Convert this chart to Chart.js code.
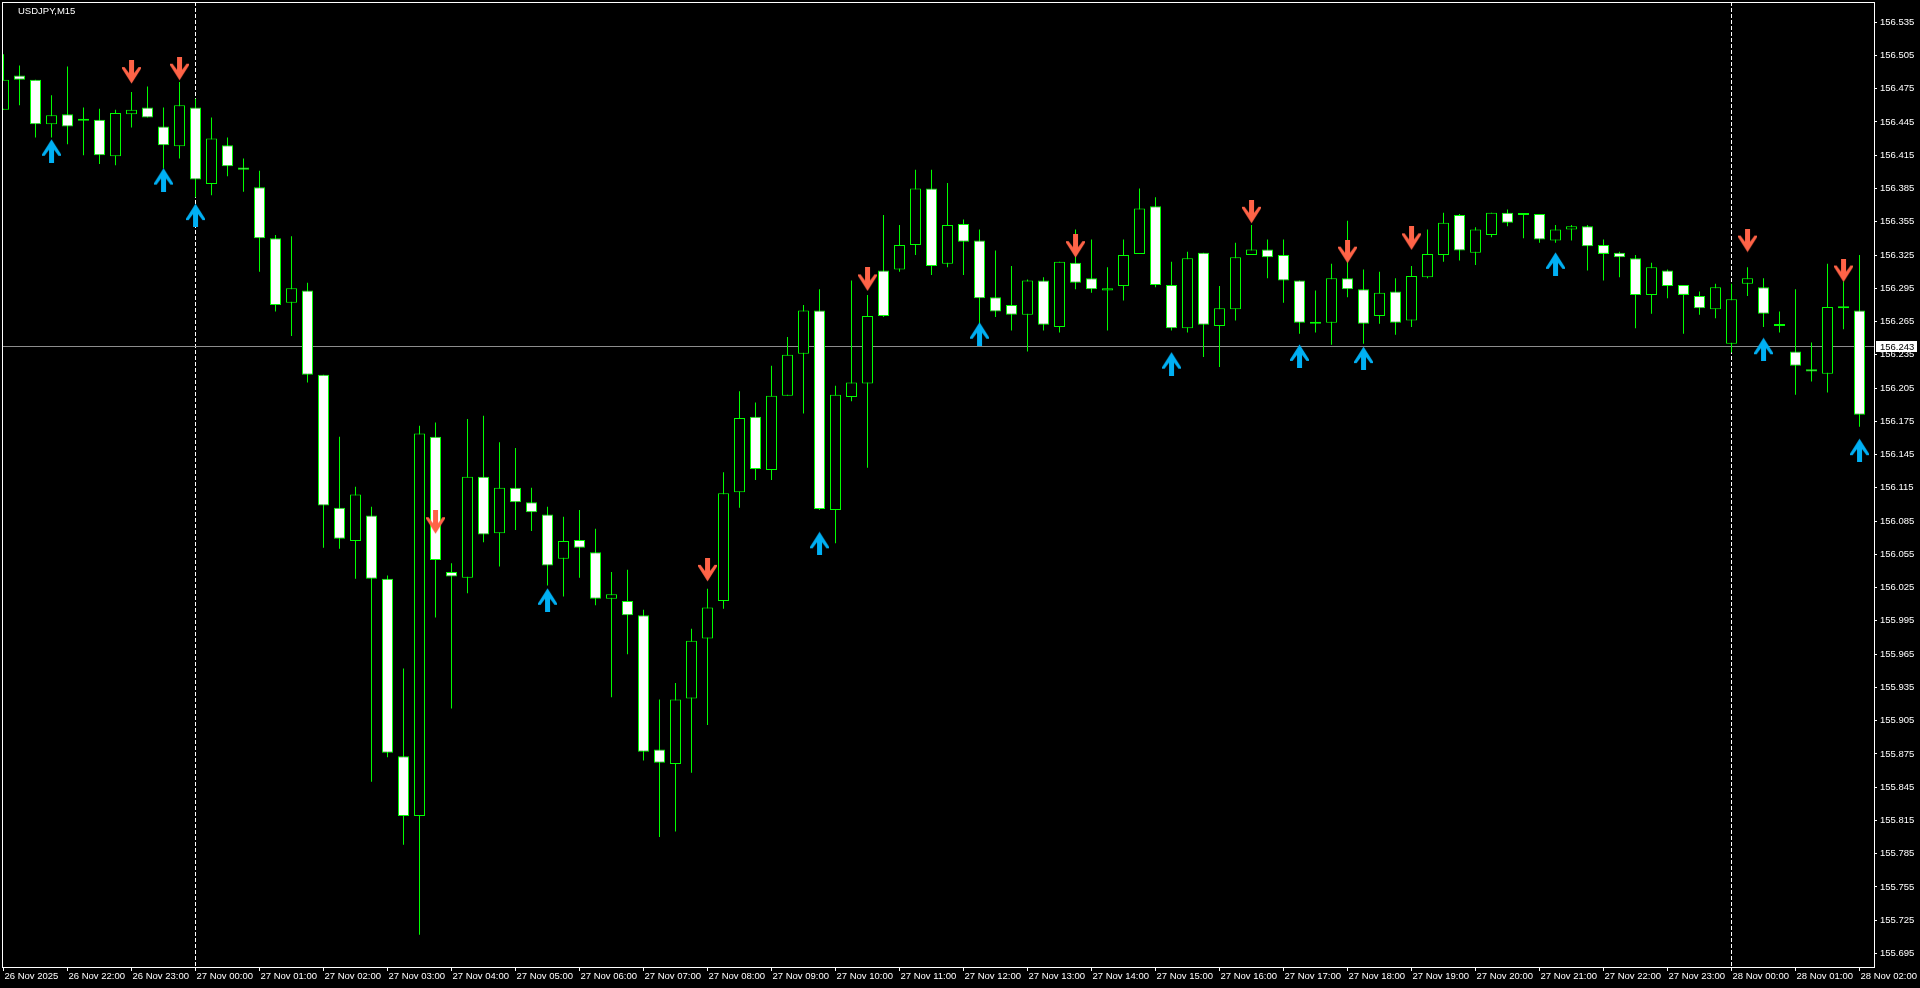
<!DOCTYPE html>
<html>
<head>
<meta charset="utf-8">
<title>USDJPY,M15</title>
<script src="https://cdn.jsdelivr.net/npm/chart.js@4.4.0/dist/chart.umd.min.js"></script>
<style>
  html, body { margin: 0; padding: 0; background: #000; overflow: hidden; }
  #chart { display: block; }
</style>
</head>
<body>
<canvas id="chart" width="1920" height="988"></canvas>
<script>
// USDJPY M15, 26 Nov 21:00 .. 28 Nov 02:00 (one entry per bar)
const symbolTitle = "USDJPY,M15";

const opens = [
  156.456, 156.487, 156.483, 156.443, 156.452, 156.448, 156.447, 156.414, 156.452, 156.458,
  156.441, 156.423, 156.458, 156.389, 156.424, 156.404, 156.386, 156.340, 156.282, 156.293,
  156.217, 156.097, 156.067, 156.090, 156.033, 155.873, 155.819, 156.161, 156.039, 156.034,
  156.125, 156.074, 156.115, 156.102, 156.091, 156.051, 156.068, 156.057, 156.015, 156.013,
  156.000, 155.879, 155.866, 155.925, 155.979, 156.013, 156.111, 156.179, 156.131, 156.198,
  156.236, 156.275, 156.095, 156.197, 156.209, 156.311, 156.312, 156.334, 156.385, 156.317,
  156.353, 156.338, 156.287, 156.280, 156.271, 156.302, 156.260, 156.318, 156.304, 156.293,
  156.297, 156.326, 156.369, 156.298, 156.259, 156.327, 156.261, 156.276, 156.325, 156.330,
  156.325, 156.302, 156.263, 156.264, 156.304, 156.294, 156.270, 156.292, 156.266, 156.305,
  156.325, 156.361, 156.327, 156.343, 156.363, 156.361, 156.362, 156.338, 156.348, 156.351,
  156.334, 156.327, 156.322, 156.289, 156.311, 156.298, 156.288, 156.276, 156.245, 156.299,
  156.296, 156.261, 156.238, 156.222, 156.218, 156.277, 156.275
];
const highs = [
  156.506, 156.496, 156.483, 156.469, 156.495, 156.458, 156.457, 156.456, 156.472, 156.477,
  156.458, 156.481, 156.466, 156.449, 156.431, 156.412, 156.401, 156.343, 156.342, 156.300,
  156.217, 156.161, 156.116, 156.098, 156.036, 155.952, 156.171, 156.174, 156.047, 156.177,
  156.180, 156.156, 156.151, 156.115, 156.098, 156.089, 156.095, 156.078, 156.039, 156.041,
  156.005, 155.924, 155.939, 155.988, 156.024, 156.129, 156.202, 156.192, 156.225, 156.251,
  156.280, 156.294, 156.207, 156.302, 156.289, 156.361, 156.352, 156.402, 156.402, 156.390,
  156.357, 156.348, 156.329, 156.315, 156.303, 156.305, 156.319, 156.348, 156.339, 156.314,
  156.339, 156.385, 156.377, 156.319, 156.328, 156.327, 156.297, 156.336, 156.352, 156.339,
  156.339, 156.302, 156.293, 156.317, 156.356, 156.312, 156.310, 156.304, 156.315, 156.348,
  156.363, 156.362, 156.350, 156.363, 156.366, 156.362, 156.362, 156.352, 156.352, 156.352,
  156.339, 156.328, 156.325, 156.318, 156.312, 156.298, 156.292, 156.299, 156.299, 156.314,
  156.304, 156.274, 156.294, 156.246, 156.317, 156.301, 156.325
];
const lows = [
  156.456, 156.460, 156.431, 156.431, 156.425, 156.415, 156.407, 156.406, 156.440, 156.449,
  156.403, 156.412, 156.377, 156.379, 156.396, 156.382, 156.310, 156.274, 156.252, 156.210,
  156.061, 156.060, 156.033, 155.850, 155.872, 155.793, 155.712, 155.998, 155.916, 156.020,
  156.066, 156.044, 156.077, 156.076, 156.027, 156.017, 156.034, 156.009, 155.926, 155.965,
  155.869, 155.800, 155.805, 155.858, 155.901, 156.006, 156.097, 156.122, 156.122, 156.198,
  156.182, 156.095, 156.065, 156.193, 156.133, 156.269, 156.310, 156.325, 156.307, 156.314,
  156.307, 156.263, 156.269, 156.257, 156.238, 156.257, 156.255, 156.294, 156.291, 156.257,
  156.284, 156.326, 156.296, 156.257, 156.255, 156.233, 156.224, 156.266, 156.325, 156.304,
  156.282, 156.254, 156.255, 156.244, 156.287, 156.245, 156.263, 156.253, 156.260, 156.304,
  156.319, 156.320, 156.316, 156.341, 156.351, 156.340, 156.336, 156.336, 156.338, 156.311,
  156.302, 156.305, 156.259, 156.272, 156.286, 156.254, 156.271, 156.268, 156.237, 156.288,
  156.260, 156.255, 156.199, 156.211, 156.201, 156.258, 156.170
];
const closes = [
  156.483, 156.483, 156.443, 156.451, 156.441, 156.446, 156.415, 156.453, 156.456, 156.449,
  156.424, 156.460, 156.393, 156.430, 156.405, 156.402, 156.340, 156.280, 156.295, 156.217,
  156.099, 156.069, 156.109, 156.033, 155.876, 155.819, 156.164, 156.050, 156.035, 156.125,
  156.073, 156.115, 156.102, 156.093, 156.045, 156.067, 156.061, 156.015, 156.019, 156.000,
  155.877, 155.867, 155.924, 155.977, 156.007, 156.110, 156.178, 156.132, 156.198, 156.235,
  156.275, 156.096, 156.199, 156.210, 156.270, 156.270, 156.334, 156.385, 156.315, 156.352,
  156.337, 156.286, 156.274, 156.271, 156.302, 156.262, 156.319, 156.300, 156.294, 156.295,
  156.325, 156.367, 156.298, 156.259, 156.322, 156.262, 156.277, 156.323, 156.330, 156.323,
  156.302, 156.264, 156.263, 156.304, 156.294, 156.263, 156.291, 156.264, 156.306, 156.326,
  156.354, 156.329, 156.348, 156.363, 156.354, 156.362, 156.339, 156.348, 156.351, 156.333,
  156.326, 156.323, 156.289, 156.314, 156.297, 156.289, 156.277, 156.296, 156.285, 156.304,
  156.272, 156.261, 156.225, 156.220, 156.278, 156.277, 156.181
];

// signal arrows (bar index, price)
const upArrowBars = [3, 10, 12, 34, 51, 61, 73, 81, 85, 97, 110, 116];
const upArrowPrices = [156.419, 156.393, 156.361, 156.014, 156.065, 156.254, 156.227, 156.234, 156.232, 156.317, 156.240, 156.149];
const downArrowBars = [8, 11, 27, 44, 54, 67, 78, 84, 88, 109, 115];
const downArrowPrices = [156.490, 156.493, 156.084, 156.041, 156.303, 156.333, 156.364, 156.328, 156.340, 156.338, 156.311];

// time axis: one label every 4 bars
const timeLabels = [
  "26 Nov 2025", "26 Nov 22:00", "26 Nov 23:00", "27 Nov 00:00", "27 Nov 01:00", "27 Nov 02:00",
  "27 Nov 03:00", "27 Nov 04:00", "27 Nov 05:00", "27 Nov 06:00", "27 Nov 07:00", "27 Nov 08:00",
  "27 Nov 09:00", "27 Nov 10:00", "27 Nov 11:00", "27 Nov 12:00", "27 Nov 13:00", "27 Nov 14:00",
  "27 Nov 15:00", "27 Nov 16:00", "27 Nov 17:00", "27 Nov 18:00", "27 Nov 19:00", "27 Nov 20:00",
  "27 Nov 21:00", "27 Nov 22:00", "27 Nov 23:00", "28 Nov 00:00", "28 Nov 01:00", "28 Nov 02:00"
];
const barsPerLabel = 4;
const daySeparatorBars = [12, 108];

const priceTicks = [
  155.695, 155.725, 155.755, 155.785, 155.815, 155.845, 155.875, 155.905, 155.935, 155.965,
  155.995, 156.025, 156.055, 156.085, 156.115, 156.145, 156.175, 156.205, 156.235, 156.265,
  156.295, 156.325, 156.355, 156.385, 156.415, 156.445, 156.475, 156.505, 156.535
];
const bidPrice = 156.243;

const FONT = '"Liberation Sans", Arial, sans-serif';
const GREEN = '#00ff00';

function makeArrow(color, up) {
  const c = document.createElement('canvas');
  c.width = 19; c.height = 24;
  const g = c.getContext('2d');
  const pts = [[7,0],[12,0],[12,13],[16.5,7],[19,7],[19,8.5],[9.5,23.5],[0,8.5],[0,7],[2.5,7],[7,13]];
  g.fillStyle = color;
  g.beginPath();
  pts.forEach(([x, y], k) => {
    const yy = up ? 24 - y : y;
    if (k === 0) g.moveTo(x, yy); else g.lineTo(x, yy);
  });
  g.closePath();
  g.fill();
  return c;
}
const upImg = makeArrow('#00b0f4', true);
const downImg = makeArrow('#ff6347', false);

const mtDecor = {
  id: 'mtDecor',
  beforeDatasetsDraw(chart) {
    const { ctx, chartArea: a, scales: { y } } = chart;
    const py = Math.round(y.getPixelForValue(bidPrice)) + 0.5;
    ctx.save();
    ctx.strokeStyle = '#8c8c8c';
    ctx.lineWidth = 1;
    ctx.beginPath();
    ctx.moveTo(a.left, py);
    ctx.lineTo(a.right, py);
    ctx.stroke();
    ctx.restore();
  },
  afterDraw(chart) {
    const { ctx, chartArea: a, scales: { y } } = chart;
    ctx.save();
    // frame
    ctx.strokeStyle = '#ffffff';
    ctx.lineWidth = 1;
    ctx.strokeRect(a.left + 0.5, a.top + 0.5, a.right - a.left, a.bottom - a.top);
    // symbol caption
    ctx.font = '9.5px ' + FONT;
    ctx.fillStyle = '#ffffff';
    ctx.textBaseline = 'alphabetic';
    ctx.textAlign = 'left';
    ctx.fillText(symbolTitle, a.left + 16, a.top + 12);
    // bid label
    const py = Math.round(y.getPixelForValue(bidPrice));
    ctx.fillStyle = '#ffffff';
    ctx.fillRect(a.right + 2, py - 5, 41, 11);
    ctx.fillStyle = '#000000';
    ctx.textBaseline = 'middle';
    ctx.fillText(bidPrice.toFixed(3), a.right + 6, py + 1);
    ctx.restore();
  }
};

const bars = opens.map((_, i) => i);

new Chart(document.getElementById('chart'), {
  data: {
    datasets: [
      {
        type: 'scatter',
        data: upArrowBars.map((b, k) => ({ x: b, y: upArrowPrices[k] })),
        pointStyle: upImg,
        pointRadius: 12,
        order: -2
      },
      {
        type: 'scatter',
        data: downArrowBars.map((b, k) => ({ x: b, y: downArrowPrices[k] })),
        pointStyle: downImg,
        pointRadius: 12,
        order: -1
      },
      {
        type: 'bar',
        data: bars.map(i => ({ x: i, y: [opens[i], closes[i]] })),
        backgroundColor: bars.map(i => closes[i] < opens[i] ? '#ffffff' : '#000000'),
        borderColor: GREEN,
        borderWidth: 1,
        borderSkipped: false,
        barThickness: 11,
        minBarLength: 2,
        inflateAmount: 0,
        grouped: false,
        order: 0
      },
      {
        type: 'bar',
        data: bars.map(i => ({ x: i, y: [lows[i], highs[i]] })),
        backgroundColor: GREEN,
        borderWidth: 0,
        barThickness: 1,
        minBarLength: 1,
        inflateAmount: 0,
        grouped: false,
        order: 1
      }
    ]
  },
  options: {
    responsive: false,
    animation: false,
    events: [],
    layout: { autoPadding: false, padding: { left: 2, top: 2, right: 0, bottom: 0 } },
    plugins: {
      legend: { display: false },
      tooltip: { enabled: false },
      title: { display: false }
    },
    scales: {
      x: {
        type: 'linear',
        min: -0.094,
        max: 116.906,
        offset: false,
        border: { display: false, dash: [4, 2] },
        grid: {
          offset: false,
          color: ctx => (ctx.tick && daySeparatorBars.includes(ctx.tick.value)) ? '#ffffff' : 'rgba(0,0,0,0)',
          lineWidth: 1,
          tickColor: '#ffffff',
          tickLength: 4,
          drawTicks: true
        },
        afterBuildTicks: s => { s.ticks = timeLabels.map((_, k) => ({ value: k * barsPerLabel })); },
        afterFit: s => { s.height = 21; s.paddingLeft = 0; s.paddingRight = 0; },
        ticks: {
          autoSkip: false,
          maxRotation: 0,
          minRotation: 0,
          align: 'start',
          labelOffset: 1,
          padding: 0,
          color: '#ffffff',
          font: { family: FONT, size: 9.5 },
          callback: (v, idx) => timeLabels[idx]
        }
      },
      y: {
        type: 'linear',
        position: 'right',
        min: 155.6828,
        max: 156.5532,
        border: { display: false },
        grid: {
          drawOnChartArea: false,
          tickColor: '#ffffff',
          tickLength: 3
        },
        afterBuildTicks: s => { s.ticks = priceTicks.map(v => ({ value: v })); },
        afterFit: s => { s.width = 46; s.paddingTop = 0; s.paddingBottom = 0; },
        ticks: {
          autoSkip: false,
          padding: 3,
          color: '#ffffff',
          font: { family: FONT, size: 9.5 },
          callback: v => Number(v).toFixed(3)
        }
      }
    }
  },
  plugins: [mtDecor]
});
</script>
</body>
</html>
